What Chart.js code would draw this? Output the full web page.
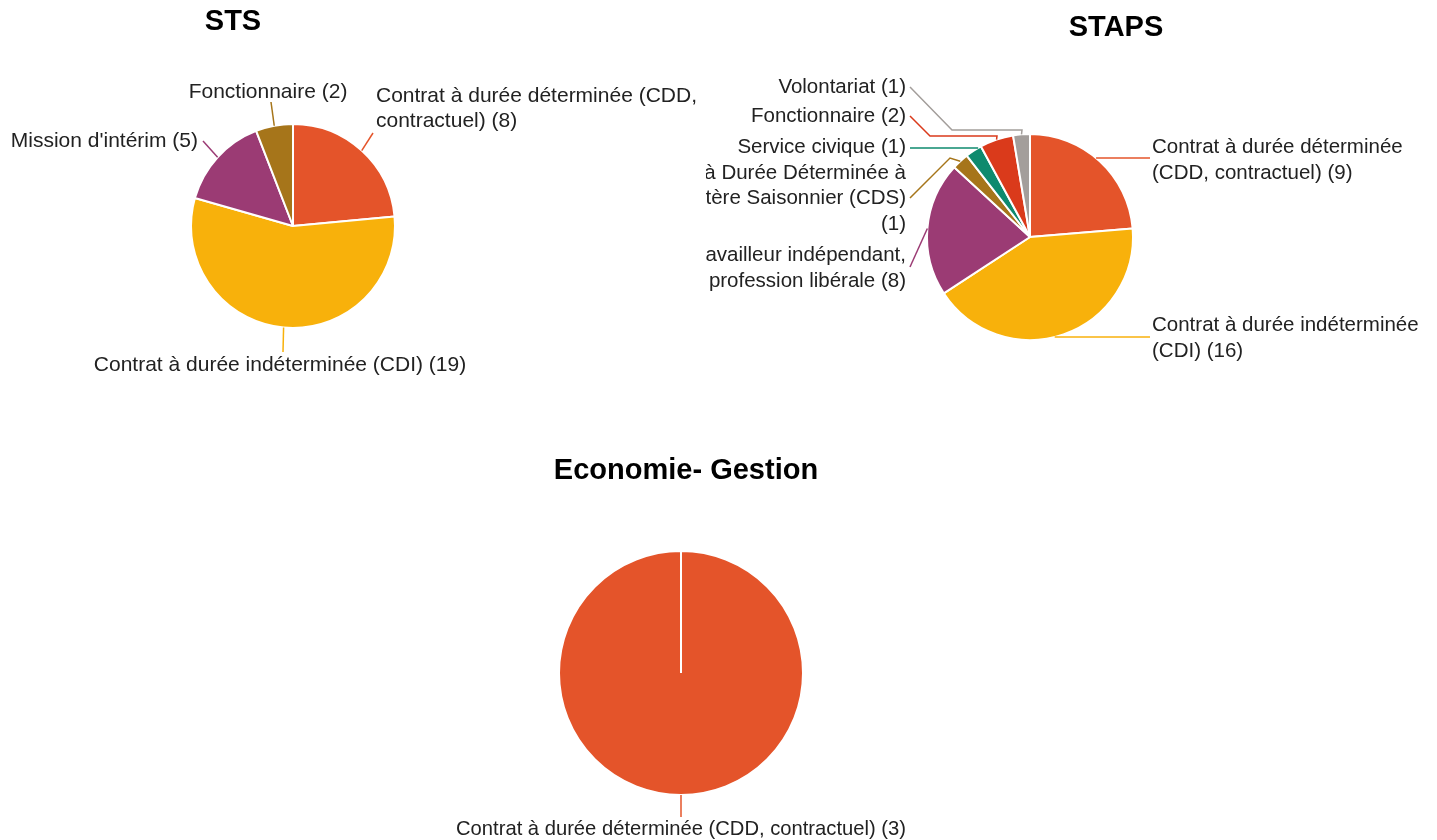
<!DOCTYPE html>
<html><head><meta charset="utf-8">
<script src="https://cdn.jsdelivr.net/npm/chart.js@4.4.0/dist/chart.umd.min.js"></script>
<style>
html,body{margin:0;padding:0;background:#fff;width:1437px;height:840px;overflow:hidden;}
.box{position:absolute;overflow:hidden;}
canvas{display:block;}
</style></head><body>
<div class="box" style="left:0;top:0;width:700px;height:420px"><canvas id="c1" width="700" height="420"></canvas></div>
<div class="box" style="left:706px;top:0;width:731px;height:420px"><canvas id="c2" width="731" height="420"></canvas></div>
<div class="box" style="left:0;top:430px;width:1437px;height:410px"><canvas id="c3" width="1437" height="410"></canvas></div>
<script>
// ---- data ----
const chartTitles = ['STS', 'STAPS', 'Economie- Gestion'];

const stsCategories = ['Contrat à durée déterminée (CDD, contractuel)', 'Contrat à durée indéterminée (CDI)', "Mission d'intérim", 'Fonctionnaire'];
const stsValues = [8, 19, 5, 2];

const stapsCategories = ['Contrat à durée déterminée (CDD, contractuel)', 'Contrat à durée indéterminée (CDI)', 'Travailleur indépendant, profession libérale', 'Contrat à Durée Déterminée à Caractère Saisonnier (CDS)', 'Service civique', 'Fonctionnaire', 'Volontariat'];
const stapsValues = [9, 16, 8, 1, 1, 2, 1];

const ecoCategories = ['Contrat à durée déterminée (CDD, contractuel)'];
const ecoValues = [3];

// ---- style ----
const palette = ['#E4542A', '#F8B10B', '#9B3B74', '#A6751A', '#0E8A6E', '#DA3A1B', '#A39E9B'];
const FONT = '"Liberation Sans", Arial, sans-serif';

function wrap(ctx, text, maxW) {
  const words = text.split(' ');
  const lines = [];
  let cur = '';
  words.forEach(w => {
    const t = cur ? cur + ' ' + w : w;
    if (cur && ctx.measureText(t).width > maxW) { lines.push(cur); cur = w; }
    else cur = t;
  });
  if (cur) lines.push(cur);
  return lines;
}

const calloutPlugin = {
  id: 'callouts',
  afterDraw(chart, args, opts) {
    const ctx = chart.ctx;
    const ox = opts.ox, oy = opts.oy;
    ctx.save();
    ctx.font = 'bold 29px ' + FONT;
    ctx.fillStyle = '#000';
    ctx.textAlign = 'center';
    ctx.textBaseline = 'middle';
    ctx.fillText(opts.title, opts.titleX - ox, opts.titleY - oy);

    const meta = chart.getDatasetMeta(0);
    const ds = chart.data.datasets[0];
    ctx.font = (opts.fontSize || 21) + 'px ' + FONT;
    meta.data.forEach((arc, i) => {
      const L = opts.layout[i];
      if (!L) return;
      const p = arc.getProps(['x', 'y', 'startAngle', 'endAngle', 'outerRadius'], true);
      const mid = (p.startAngle + p.endAngle) / 2;
      let sx, sy;
      if (L.edgeY !== undefined) {
        const dy = L.edgeY - oy - p.y;
        const dx = Math.sqrt(Math.max(p.outerRadius * p.outerRadius - dy * dy, 0));
        sx = p.x + (Math.cos(mid) >= 0 ? dx : -dx);
        sy = L.edgeY - oy;
      } else {
        sx = p.x + Math.cos(mid) * p.outerRadius;
        sy = p.y + Math.sin(mid) * p.outerRadius;
      }
      ctx.strokeStyle = ds.backgroundColor[i];
      ctx.lineWidth = 1.5;
      ctx.beginPath();
      ctx.moveTo(sx, sy);
      L.path.forEach(pt => ctx.lineTo(pt[0] - ox, pt[1] - oy));
      ctx.stroke();

      const text = chart.data.labels[i] + ' (' + ds.data[i] + ')';
      const lines = wrap(ctx, text, L.maxWidth || 5000);
      ctx.fillStyle = '#222';
      ctx.textAlign = L.align;
      ctx.textBaseline = 'middle';
      lines.forEach((ln, k) => ctx.fillText(ln, L.x - ox, L.y - oy + k * (L.lh || 25)));
    });
    ctx.restore();
  }
};

function makePie(id, labels, values, colors, radius, padding, calloutOpts) {
  return new Chart(document.getElementById(id), {
    type: 'pie',
    data: {
      labels: labels,
      datasets: [{
        data: values,
        backgroundColor: colors,
        borderColor: '#ffffff',
        borderWidth: 2,
        radius: radius,
        hoverOffset: 0
      }]
    },
    options: {
      responsive: false,
      animation: false,
      events: [],
      layout: { padding: padding },
      plugins: {
        legend: { display: false },
        tooltip: { enabled: false },
        title: { display: false },
        callouts: calloutOpts
      }
    },
    plugins: [calloutPlugin]
  });
}

// STS
makePie('c1', stsCategories, stsValues, palette.slice(0, stsValues.length), 102,
  { left: 100, right: 214, top: 80, bottom: 48 },
  {
    ox: 0, oy: 0, title: chartTitles[0], titleX: 233, titleY: 22, fontSize: 21,
    layout: [
      { align: 'left', x: 376, y: 96, lh: 25, maxWidth: 330, path: [[373, 133]] },
      { align: 'center', x: 280, y: 365, path: [[283, 352]] },
      { align: 'right', x: 198, y: 141, path: [[203, 141]] },
      { align: 'center', x: 268, y: 92, path: [[271, 102]] }
    ]
  });

// STAPS
makePie('c2', stapsCategories, stapsValues, palette.slice(0, stapsValues.length), 103,
  { left: 100, right: 183, top: 80, bottom: 26 },
  {
    ox: 706, oy: 0, title: chartTitles[1], titleX: 1116, titleY: 28, fontSize: 20.5,
    layout: [
      { align: 'left', x: 1152, y: 147, lh: 26, maxWidth: 280, edgeY: 158, path: [[1150, 158]] },
      { align: 'left', x: 1152, y: 325, lh: 26, maxWidth: 280, edgeY: 337, path: [[1150, 337]] },
      { align: 'right', x: 906, y: 255, lh: 26, maxWidth: 284, path: [[910, 267]] },
      { align: 'right', x: 906, y: 173, lh: 25.5, maxWidth: 284, path: [[950, 158], [910, 198]] },
      { align: 'right', x: 906, y: 147, edgeY: 148, path: [[910, 148]] },
      { align: 'right', x: 906, y: 116, path: [[997, 136], [930, 136], [910, 116]] },
      { align: 'right', x: 906, y: 87, path: [[1022, 130], [952, 130], [910, 87]] }
    ]
  });

// Economie- Gestion
makePie('c3', ecoCategories, ecoValues, palette.slice(0, ecoValues.length), 122,
  { left: 300, right: 375, top: 100, bottom: 24 },
  {
    ox: 0, oy: 430, title: chartTitles[2], titleX: 686, titleY: 471, fontSize: 20.2,
    layout: [
      { align: 'center', x: 681, y: 829, path: [[681, 817]] }
    ]
  });
</script>
</body></html>
